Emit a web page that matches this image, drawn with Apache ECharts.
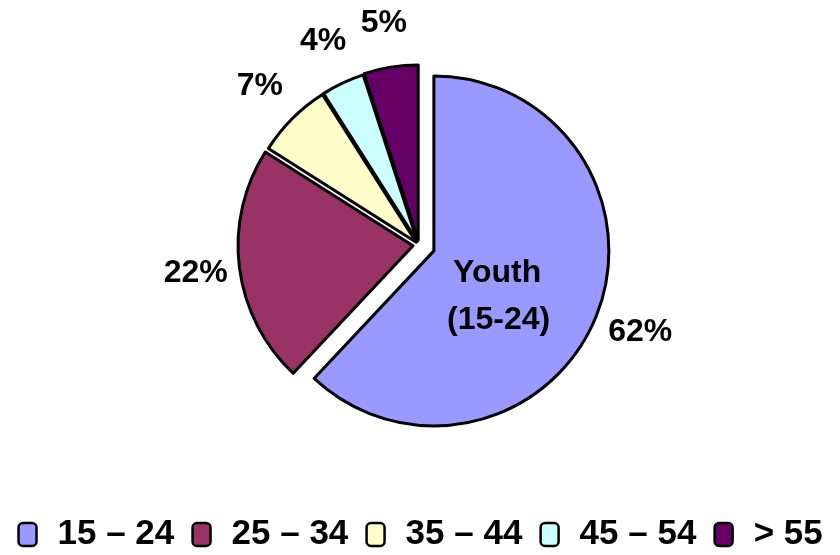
<!DOCTYPE html>
<html>
<head>
<meta charset="utf-8">
<script src="https://cdn.jsdelivr.net/npm/echarts@6/dist/echarts.min.js"></script>
<style>
  html, body { margin: 0; padding: 0; background: #fff; }
  #main { width: 840px; height: 555px; }
</style>
</head>
<body>
<div id="main"></div>
<script>
// age groups and their share of the total (%)
const categories = ['15 – 24', '25 – 34', '35 – 44', '45 – 54', '> 55'];
const shares = [62, 22, 7, 4, 5];
const colors = ['#9999FF', '#993366', '#FFFFCC', '#CCFFFF', '#660066'];

const chartDom = document.getElementById('main');
const myChart = echarts.init(chartDom);

const FONT = '"Liberation Sans", Arial, sans-serif';
const center = [419, 245];
const radius = 175;

// slices that are pulled out of the pie by the same distance share a series
const groups = [
    { idx: [0], offset: 16 },
    { idx: [1], offset: 6 },
    { idx: [2, 3], offset: 4 },
    { idx: [4], offset: 5 }
];

const hidden = { color: 'rgba(0,0,0,0)', borderWidth: 0 };

const sliceSeries = groups.map(function (g) {
    return {
        type: 'pie',
        silent: true,
        center: center,
        radius: radius,
        startAngle: 90,
        clockwise: true,
        selectedMode: 'multiple',
        selectedOffset: g.offset,
        avoidLabelOverlap: false,
        label: { show: false },
        labelLine: { show: false },
        emphasis: { disabled: true },
        data: categories.map(function (name, i) {
            const on = g.idx.indexOf(i) >= 0;
            return {
                name: name,
                value: shares[i],
                selected: on,
                itemStyle: on ? { color: colors[i], borderColor: '#000', borderWidth: 3 } : hidden
            };
        })
    };
});

// invisible ring that carries the percentage labels
const labelSeries = {
    type: 'pie',
    silent: true,
    center: center,
    radius: [212, 232],
    startAngle: 90,
    selectedMode: 'single',
    selectedOffset: 13,
    avoidLabelOverlap: false,
    emphasis: { disabled: true },
    labelLine: { show: false },
    label: {
        show: true,
        position: 'inside',
        formatter: '{c}%',
        color: '#000',
        fontSize: 32,
        fontWeight: 'bold',
        fontFamily: FONT
    },
    data: categories.map(function (name, i) {
        return { name: name, value: shares[i], selected: i === 0, itemStyle: hidden };
    })
};

const option = {
    animation: false,
    backgroundColor: '#fff',
    legend: {
        left: 'center',
        top: 512,
        icon: 'roundRect',
        itemWidth: 18,
        itemHeight: 23,
        itemGap: 17,
        selectedMode: false,
        itemStyle: { borderColor: '#000', borderWidth: 2.5 },
        textStyle: {
            color: '#000',
            fontSize: 35,
            fontWeight: 'bold',
            fontFamily: FONT,
            padding: [0, 0, 0, 16]
        },
        data: categories.map(function (name, i) {
            return { name: name, itemStyle: { color: colors[i], borderColor: '#000', borderWidth: 2.5 } };
        })
    },
    graphic: [
        {
            type: 'text',
            z: 100,
            left: 499 - 46,
            top: 257,
            style: { text: 'Youth', fontSize: 32, fontWeight: 'bold', fontFamily: FONT, fill: '#000' }
        },
        {
            type: 'text',
            z: 100,
            left: 499 - 52,
            top: 304,
            style: { text: '(15-24)', fontSize: 32, fontWeight: 'bold', fontFamily: FONT, fill: '#000' }
        }
    ],
    series: sliceSeries.concat([labelSeries])
};

myChart.setOption(option);
</script>
</body>
</html>
